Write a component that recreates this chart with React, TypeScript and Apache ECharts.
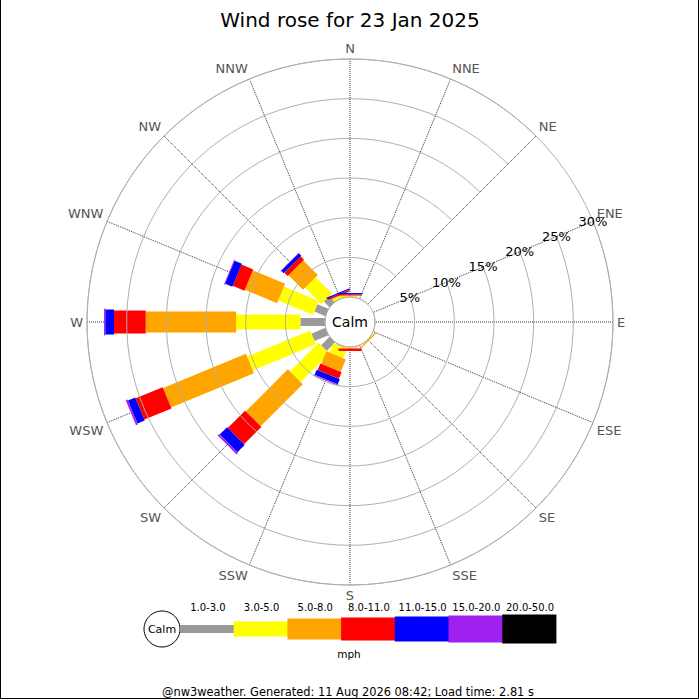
import React, { useEffect, useRef } from 'react';
import * as echarts from 'echarts';

const TITLE = 'Wind rose for 23 Jan 2025';
const FOOTER = '@nw3weather. Generated: 11 Aug 2026 08:42; Load time: 2.81 s';
const UNIT = 'mph';
const CALM_LABEL = 'Calm';

const DIRECTIONS = ['N', 'NNE', 'NE', 'ENE', 'E', 'ESE', 'SE', 'SSE', 'S', 'SSW', 'SW', 'WSW', 'W', 'WNW', 'NW', 'NNW'];
// angle axis order starts at ENE (where the % labels sit) and runs clockwise
const ANGLE_ORDER = [...DIRECTIONS.slice(3), ...DIRECTIONS.slice(0, 3)];

const SPEED_BINS = ['1.0-3.0', '3.0-5.0', '5.0-8.0', '8.0-11.0', '11.0-15.0', '15.0-20.0', '20.0-50.0'];
const BIN_COLORS = ['#9a9a9a', '#ffff00', '#ffa500', '#ff0000', '#0000ff', '#a020f0', '#000000'];
const BIN_WIDTHS = [8, 15, 21, 23, 25, 27, 29];

// percentage of time per direction (order of DIRECTIONS)
//                    N     NNE NE ENE E ESE SE    SSE S    SSW   SW    WSW   W     WNW   NW    NNW
const SPEED_1_3 =   [0,    0, 0, 0, 0, 0, 0,    0, 0,    0.1,  1.5,  1.9,  3.1,  1.5,  1.0,  0.05];
const SPEED_3_5 =   [0.1,  0, 0, 0, 0, 0, 0.05, 0, 0.1,  1.3,  5.1,  8.6,  8.1,  4.75, 2.9,  0.3];
const SPEED_5_8 =   [0.1,  0, 0, 0, 0, 0, 0.15, 0, 0.1,  1.7,  7.5,  11.3, 11.4, 4.4,  2.6,  0.1];
const SPEED_8_11 =  [0.15, 0, 0, 0, 0, 0, 0,    0, 0.3,  0.9,  3.1,  3.7,  4.0,  1.6,  0.6,  0.2];
const SPEED_11_15 = [0.15, 0, 0, 0, 0, 0, 0,    0, 0,    0.7,  1.3,  1.0,  1.1,  1.0,  0.45, 0.15];
const SPEED_15_20 = [0,    0, 0, 0, 0, 0, 0,    0, 0,    0.15, 0.25, 0.25, 0.15, 0.1,  0.05, 0];
const SPEED_20_50 = [0,    0, 0, 0, 0, 0, 0,    0, 0,    0,    0,    0,    0,    0,    0,    0];
const SPEED_SERIES = [SPEED_1_3, SPEED_3_5, SPEED_5_8, SPEED_8_11, SPEED_11_15, SPEED_15_20, SPEED_20_50];

const RADIUS_MAX = 30;
const RADIUS_STEP = 5;

const FONT = 'DejaVu Sans';

export default function App() {
  const ref = useRef<HTMLDivElement>(null);

  useEffect(() => {
    document.body.style.margin = '0';
    if (!ref.current) return;
    const chart = echarts.init(ref.current, undefined, { renderer: 'svg' });

    const cum = DIRECTIONS.map(() => 0);
    const series: any[] = SPEED_SERIES.map((vals, k) => {
      const data = DIRECTIONS.map((d, i) => {
        const start = cum[i];
        const end = start + vals[i];
        cum[i] = end;
        return [ANGLE_ORDER.indexOf(d), start, end];
      });
      const w = BIN_WIDTHS[k];
      const color = BIN_COLORS[k];
      return {
        type: 'custom',
        name: SPEED_BINS[k],
        coordinateSystem: 'polar',
        encode: { angle: 0, radius: [1, 2] },
        clip: false,
        z: 3 + k,
        silent: true,
        data,
        renderItem: (params: any, api: any) => {
          const idx = api.value(0);
          const r0 = api.value(1);
          const r1 = api.value(2);
          if (!(r1 > r0)) return null;
          const p0 = api.coord([r0, idx]);
          const p1 = api.coord([r1, idx]);
          const dx = p1[0] - p0[0];
          const dy = p1[1] - p0[1];
          const len = Math.hypot(dx, dy);
          if (len === 0) return null;
          const nx = (-dy / len) * (w / 2);
          const ny = (dx / len) * (w / 2);
          return {
            type: 'polygon',
            shape: {
              points: [
                [p0[0] + nx, p0[1] + ny],
                [p1[0] + nx, p1[1] + ny],
                [p1[0] - nx, p1[1] - ny],
                [p0[0] - nx, p0[1] - ny],
              ],
            },
            style: { fill: color, stroke: null },
          };
        },
      };
    });

    // legend graphic built from bins
    const legendX0 = 180;
    const segW = 53.7;
    const legendY = 629;
    const legend: any[] = [
      {
        type: 'circle',
        shape: { cx: 162, cy: legendY, r: 18 },
        style: { fill: '#fff', stroke: '#000', lineWidth: 1 },
      },
      {
        type: 'text',
        x: 162,
        y: legendY,
        style: { text: CALM_LABEL, fontSize: 11, fontFamily: FONT, fill: '#000', align: 'center', verticalAlign: 'middle' },
      },
    ];
    SPEED_BINS.forEach((b, k) => {
      const x = legendX0 + k * segW;
      legend.push({
        type: 'rect',
        shape: { x, y: legendY - BIN_WIDTHS[k] / 2, width: segW + 0.5, height: BIN_WIDTHS[k] },
        style: { fill: BIN_COLORS[k] },
      });
      legend.push({
        type: 'text',
        x: x + segW / 2 + 1,
        y: 607,
        style: { text: b, fontSize: 10, fontFamily: FONT, fill: '#000', align: 'center', verticalAlign: 'middle' },
      });
    });
    legend.push({
      type: 'text',
      x: 349,
      y: 654,
      style: { text: UNIT, fontSize: 10.5, fontFamily: FONT, fill: '#000', align: 'center', verticalAlign: 'middle' },
    });

    const option: any = {
      animation: false,
      backgroundColor: '#fff',
      title: {
        text: TITLE,
        left: 'center',
        top: 5,
        textStyle: { fontSize: 20, fontWeight: 'normal', color: '#000', fontFamily: FONT },
      },
      polar: { center: [350, 322], radius: [25, 263] },
      angleAxis: {
        type: 'category',
        data: ANGLE_ORDER,
        startAngle: 22.5,
        clockwise: true,
        boundaryGap: false,
        axisTick: { show: false },
        axisLine: { show: true, lineStyle: { color: '#b0b0b0', width: 1 } },
        axisLabel: { color: '#555', fontSize: 13, fontFamily: FONT, margin: 4 },
        splitLine: { show: true, lineStyle: { type: 'dotted', color: '#333', width: 1 } },
        z: 1,
      },
      radiusAxis: {
        type: 'value',
        min: 0,
        max: RADIUS_MAX,
        interval: RADIUS_STEP,
        axisLine: { show: false },
        axisTick: { show: false },
        axisLabel: {
          margin: 0,
          align: 'center',
          verticalAlign: 'middle',
          color: '#000',
          fontSize: 13,
          fontFamily: FONT,
          formatter: (v: number) => (v === 0 ? '' : v + '%'),
        },
        splitLine: { show: true, lineStyle: { color: '#b0b0b0', width: 1 } },
        z: 20,
      },
      series,
      graphic: [
        {
          type: 'text',
          x: 350,
          y: 322,
          z: 100,
          style: { text: CALM_LABEL, fontSize: 14, fontFamily: FONT, fill: '#000', align: 'center', verticalAlign: 'middle' },
        },
        ...legend,
        {
          type: 'text',
          x: 348,
          y: 692,
          style: { text: FOOTER, fontSize: 11.4, fontFamily: FONT, fill: '#000', align: 'center', verticalAlign: 'middle' },
        },
        {
          type: 'polyline',
          shape: { points: [[0.5, 0], [0.5, 698.5], [698.5, 698.5], [698.5, 0]] },
          style: { stroke: '#000', lineWidth: 1, fill: null },
        },
      ],
    };

    chart.setOption(option);
    return () => chart.dispose();
  }, []);

  return <div ref={ref} style={{ width: 700, height: 700 }} />;
}
